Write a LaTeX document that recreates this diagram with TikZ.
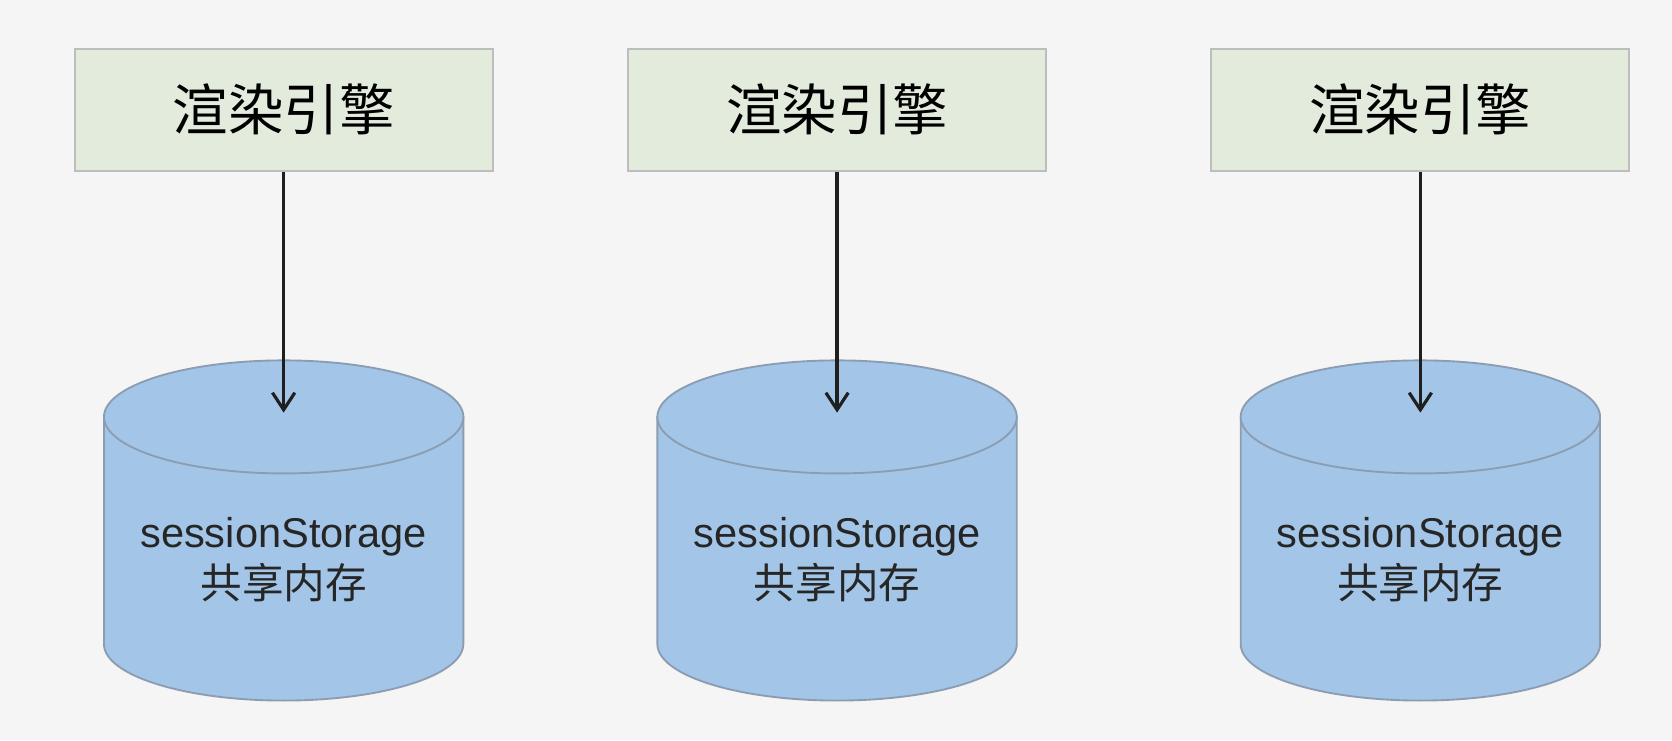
\documentclass[tikz,border=0pt]{standalone}
\usepackage{fontspec}
\setmainfont{Liberation Sans}
\newfontfamily\cjk{Noto Sans CJK SC}
\usetikzlibrary{arrows.meta}
\definecolor{enginefill}{HTML}{E2EBDC}
\definecolor{engineline}{HTML}{BDBDBD}
\definecolor{storefill}{HTML}{A3C6E8}
\definecolor{storeline}{HTML}{8C9DB2}
\definecolor{bgcolor}{HTML}{F5F5F5}
\tikzset{
  engine/.style={draw=engineline, fill=enginefill, line width=0.5pt, minimum width=3.92cm, minimum height=1.14cm, inner sep=0pt, font=\cjk\fontsize{14.8}{16}\selectfont},
  store/.style={draw=storeline, fill=storefill, line width=0.5pt},
  storetext/.style={align=center, text=black!85, font=\fontsize{11.1}{13.6}\selectfont},
  link/.style={-{Straight Barb[length=1.6mm,width=2.1mm]}, line width=0.85pt, draw=black!88}
}
\begin{document}
\begin{tikzpicture}
\fill[bgcolor] (0,0) rectangle (15.68,6.94);
\useasboundingbox (0,0) rectangle (15.68,6.94);
\pgfmathsetmacro\rx{1.685};
\pgfmathsetmacro\ry{0.53};
\foreach \n/\x in {1/2.66,2/7.85,3/13.32} {
  \node[engine] (engine\n) at (\x,5.91) {渲染引擎};
  \draw[store] (\x-\rx,3.03) -- (\x-\rx,0.90) arc[start angle=180, end angle=360, x radius=\rx, y radius=\ry] -- (\x+\rx,3.03) -- cycle;
  \draw[store] (\x,3.03) ellipse[x radius=\rx, y radius=\ry];
  \coordinate (storetop\n) at (\x,3.07);
  \node[storetext] (store\n) at (\x,1.69) {sessionStorage\\{\cjk 共享内存}};
  \draw[link] (engine\n) -- (storetop\n);
}
\end{tikzpicture}
\end{document}
